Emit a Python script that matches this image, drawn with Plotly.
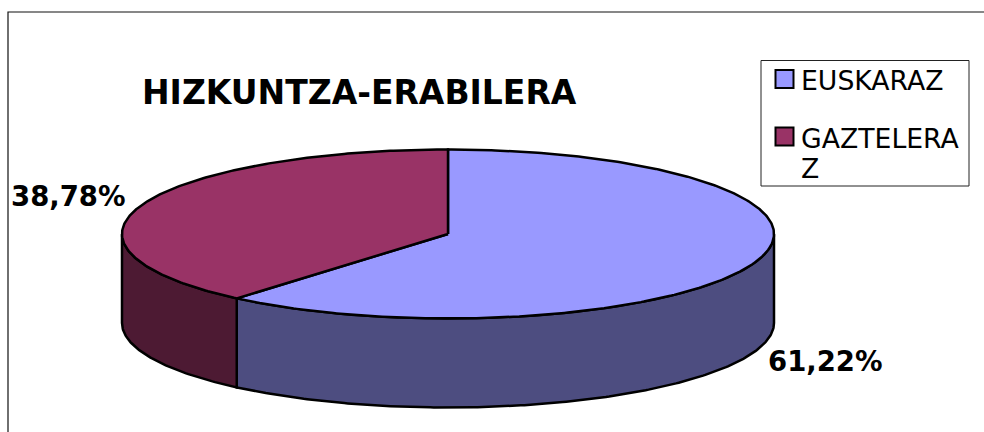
import numpy as np
import plotly.graph_objects as go

categories = ["EUSKARAZ", "GAZTELERAZ"]
values = [61.22, 38.78]
value_labels = ["61,22%", "38,78%"]
top_colors = ["#9999FF", "#993366"]
wall_colors = ["#4D4D80", "#4D1A33"]
title_text = "HIZKUNTZA-ERABILERA"

CX, CY, RX, RY, DEPTH = 448, 234, 326, 84.5, 89
FONT = "DejaVu Sans"
LW = 2.5


def rim(a0, a1, drop=0.0):
    n = max(int(abs(a1 - a0) * 90), 2)
    t = np.linspace(a0, a1, n)
    return CX + RX * np.sin(t), CY - RY * np.cos(t) + drop


fig = go.Figure()
angles = np.concatenate([[0], np.cumsum(values) / np.sum(values) * 2 * np.pi])


def poly(x, y, color, name):
    fig.add_trace(go.Scatter(
        x=x, y=y, mode="lines", fill="toself", fillcolor=color, name=name,
        line=dict(color="black", width=LW), hoverinfo="name", showlegend=False,
    ))


# Side walls: only the front half of the cylinder (pi/2 .. 3pi/2) is visible
for i, name in enumerate(categories):
    a0 = max(angles[i], np.pi / 2)
    a1 = min(angles[i + 1], 3 * np.pi / 2)
    if a1 > a0:
        xt, yt = rim(a0, a1)
        xb, yb = rim(a0, a1, DEPTH)
        poly(np.r_[xt, xb[::-1], xt[0]], np.r_[yt, yb[::-1], yt[0]], wall_colors[i], name)

# Top face slices
for i, name in enumerate(categories):
    xt, yt = rim(angles[i], angles[i + 1])
    poly(np.r_[CX, xt, CX], np.r_[CY, yt, CY], top_colors[i], name)

shapes = [
    dict(type="rect", x0=8, x1=1100, y0=12, y1=600, line=dict(color="#111", width=1.2), layer="below"),
    dict(type="rect", x0=761, x1=969, y0=60.5, y1=186, line=dict(color="#222", width=1), fillcolor="white", layer="below"),
]
for y0, c in zip([70, 127.5], top_colors):
    shapes.append(dict(type="rect", x0=775.5, x1=793.5, y0=y0, y1=y0 + 18, fillcolor=c, line=dict(color="black", width=2)))


def label(x, y, text, size, bold=False, anchor="left"):
    fig.add_annotation(x=x, y=y, text=f"<b>{text}</b>" if bold else text, showarrow=False, xanchor=anchor,
                       yanchor="middle", font=dict(family=FONT, size=size, color="black"),
                       borderpad=0, borderwidth=0)


label(359, 92, title_text, 33, True, "center")
label(11, 196, value_labels[1], 27.5, True)
label(768, 361, value_labels[0], 27.5, True)
label(801, 80, categories[0], 26.7)
label(801, 138, categories[1][:-1], 26.7)
label(801, 168, categories[1][-1], 26.7)

fig.update_layout(
    width=984, height=432, autosize=False, margin=dict(l=0, r=0, t=0, b=0),
    paper_bgcolor="white", plot_bgcolor="white", shapes=shapes, showlegend=False,
    xaxis=dict(range=[0, 984], visible=False, fixedrange=True),
    yaxis=dict(range=[432, 0], visible=False, fixedrange=True),
)
fig.write_html(
    "out.html",
    config={"displayModeBar": False},
    post_script="document.body.style.margin='0';document.body.style.overflow='hidden';",
)
